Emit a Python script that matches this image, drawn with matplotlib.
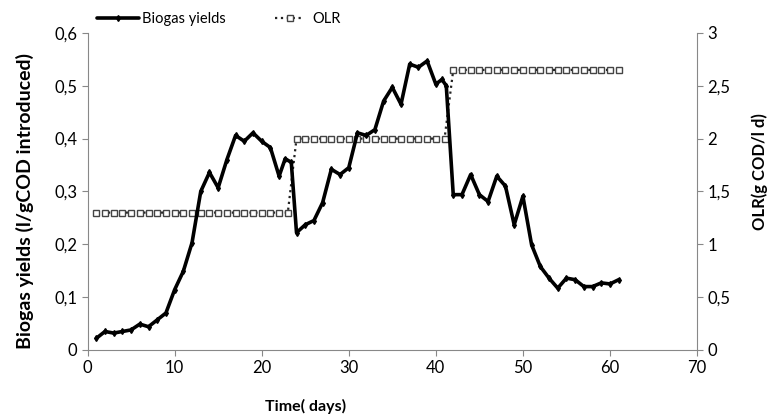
import matplotlib.pyplot as plt
from matplotlib.ticker import FuncFormatter

plt.rcParams['font.family'] = ['Lato', 'DejaVu Sans']

# biogas yields (l/gCOD introduced)
days = [1, 2, 3, 4, 5, 6, 7, 8, 9, 10, 11, 12, 13, 14, 15, 16, 17, 18, 19, 20,
        21, 22, 22.7, 23.4, 24, 25, 26, 27, 28, 29, 30, 31, 32, 33, 34, 35, 36,
        37, 38, 39, 40, 40.7, 41.2, 42, 43, 44, 45, 46, 47, 48, 49, 50, 51, 52,
        53, 54, 55, 56, 57, 58, 59, 60, 61]
biogas = [0.022, 0.035, 0.032, 0.035, 0.038, 0.049, 0.044, 0.057, 0.07, 0.114,
          0.149, 0.203, 0.30, 0.336, 0.307, 0.36, 0.406, 0.395, 0.411, 0.395,
          0.383, 0.329, 0.362, 0.355, 0.222, 0.237, 0.245, 0.279, 0.342, 0.332,
          0.345, 0.411, 0.406, 0.417, 0.471, 0.497, 0.465, 0.541, 0.535, 0.547,
          0.503, 0.512, 0.50, 0.294, 0.294, 0.332, 0.294, 0.281, 0.329, 0.31,
          0.237, 0.291, 0.199, 0.158, 0.136, 0.117, 0.136, 0.133, 0.120, 0.120,
          0.127, 0.125, 0.133]

# organic loading rate (g COD/l d)
olr_days = list(range(1, 62))
olr = [1.3] * 23 + [2.0] * 18 + [2.65] * 20

fig = plt.figure(figsize=(7.68, 4.17), dpi=100)
ax = fig.add_axes([0.114, 0.1607, 0.7936, 0.7603])
ax2 = ax.twinx()

l1, = ax.plot(days, biogas, color='black', lw=2.6, marker='d', ms=3,
              solid_joinstyle='round', solid_capstyle='round',
              label='Biogas yields', zorder=3)
l2, = ax2.plot(olr_days, olr, color='#222222', lw=1.6, ls=':', marker='s',
               ms=4.6, mfc='white', mec='#444444', mew=1, label='OLR')

ax.set_zorder(ax2.get_zorder() + 1)
ax.patch.set_visible(False)

ax.set_xlim(0, 70)
ax.set_ylim(0, 0.6)
ax2.set_ylim(0, 3)
ax.set_xticks(range(0, 71, 10))
ax.set_yticks([0, 0.1, 0.2, 0.3, 0.4, 0.5, 0.6])
ax2.set_yticks([0, 0.5, 1, 1.5, 2, 2.5, 3])

comma = FuncFormatter(lambda v, p: ('%g' % round(v, 2)).replace('.', ','))
ax.yaxis.set_major_formatter(comma)
ax2.yaxis.set_major_formatter(comma)

for a in (ax, ax2):
    a.spines['top'].set_visible(False)
    for s in a.spines.values():
        s.set_color('#888888')
    a.tick_params(colors='#888888', labelcolor='black', labelsize=12, length=4)
ax.spines['right'].set_visible(False)
ax2.spines['left'].set_visible(False)
ax2.spines['bottom'].set_visible(False)

ax.set_xlabel('Time( days)', fontsize=11.5, fontweight='bold')
ax.xaxis.set_label_coords(0.358, -0.155)
ax.set_ylabel('Biogas yields (l/gCOD introduced)', fontsize=14, fontweight='bold')
ax.yaxis.set_label_coords(-0.088, 0.47)
ax2.set_ylabel('OLR(g COD/l d)', fontsize=12, fontweight='bold')
ax2.yaxis.set_label_coords(1.09, 0.563)

leg1 = fig.legend([l1], ['Biogas yields'], loc='upper left',
                  bbox_to_anchor=(0.126, 0.972), frameon=False, fontsize=10.5,
                  handlelength=2.9, handletextpad=0.2, borderpad=0,
                  borderaxespad=0)
fig.legend([l2], ['OLR'], loc='upper left',
           bbox_to_anchor=(0.358, 0.972), frameon=False, fontsize=10.5,
           handlelength=2.0, handletextpad=0.6, borderpad=0, borderaxespad=0)

fig.savefig('out.png', dpi=100)
